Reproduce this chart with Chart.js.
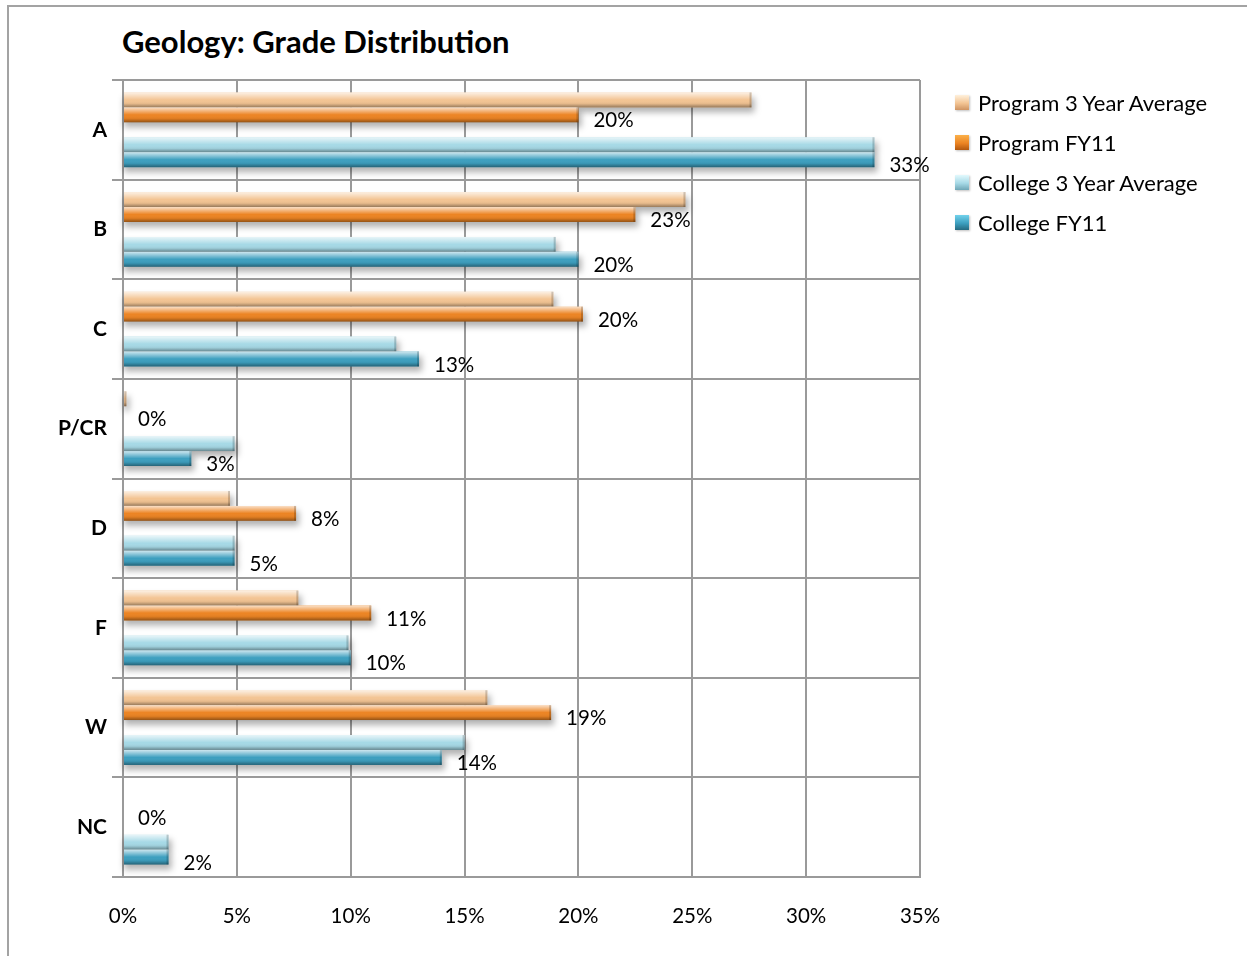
<!DOCTYPE html>
<html>
<head>
<meta charset="utf-8">
<title>Geology: Grade Distribution</title>
<script src="https://cdn.jsdelivr.net/npm/chart.js@4.4.1/dist/chart.umd.min.js"></script>
<style>
    html, body { margin: 0; padding: 0; background: #fff; overflow: hidden; }
    body { width: 1247px; height: 956px; position: relative; font-family: Lato, "Open Sans", sans-serif; }
    .frame {
        position: absolute; left: 7px; top: 5px; width: 1400px; height: 1100px;
        border-left: 2px solid #a3a3a3; border-top: 2px solid #a3a3a3;
    }
    .chart-box { position: absolute; left: 0; top: 0; width: 1247px; height: 956px; }
    .chart-title {
        position: absolute; left: 122px; top: 22px; line-height: 38px;
        font-weight: bold; font-size: 31px; color: #000; white-space: nowrap;
    }
    .legend { position: absolute; left: 955px; top: 82px; margin: 0; padding: 0; list-style: none; }
    .legend li { display: flex; align-items: center; height: 40px; font-size: 22px; color: #000; white-space: nowrap; }
    .legend .swatch { width: 14px; height: 15px; margin-right: 9px; box-shadow: 1px 1px 2px rgba(0,0,0,0.25); }
</style>
</head>
<body>
<div class="frame"></div>
<div class="chart-title">Geology: Grade Distribution</div>
<div class="chart-box"><canvas id="gradeChart"></canvas></div>
<ul class="legend" id="legend-id"></ul>

<script>
// Grade categories, top to bottom
const categories = ['A', 'B', 'C', 'P/CR', 'D', 'F', 'W', 'NC'];

// Percent of grades per series
const program3YearAvg = [27.6, 24.7, 18.9, 0.15, 4.7, 7.7, 16.0, 0];
const programFY11     = [20.0, 22.5, 20.2, 0, 7.6, 10.9, 18.8, 0];
const college3YearAvg = [33.0, 19.0, 12.0, 4.9, 4.9, 9.9, 15.0, 2.0];
const collegeFY11     = [33.0, 20.0, 13.0, 3.0, 4.9, 10.0, 14.0, 2.0];

// X axis tick values (percent)
const xTicks = [0, 5, 10, 15, 20, 25, 30, 35];

// Series colours: base fill + light/dark for legend swatches
const seriesColors = {
    prog3: { base: '#f3c493', light: '#fff1dc', dark: '#cf9462' },
    progFY: { base: '#ec8423', light: '#fbb14a', dark: '#b2580f' },
    coll3: { base: '#a6d9e6', light: '#e2f9fd', dark: '#6fa6b6' },
    collFY: { base: '#3d9fbf', light: '#72d2ec', dark: '#266a80' }
};

const gridColor = '#9a9a9a';
const fontFamily = 'Lato, "Open Sans", sans-serif';

// Soft drop shadow under every bar
const shadowPlugin = {
    id: 'barShadow',
    beforeDatasetsDraw(chart) {
        const ctx = chart.ctx;
        ctx.save();
        ctx.filter = 'blur(3px)';
        ctx.fillStyle = 'rgba(0, 0, 0, 0.3)';
        chart.data.datasets.forEach((ds, i) => {
            const meta = chart.getDatasetMeta(i);
            if (meta.hidden) return;
            meta.data.forEach(bar => {
                const p = bar.getProps(['x', 'y', 'base', 'height'], true);
                if (p.x - p.base < 1) return;
                ctx.fillRect(p.base, p.y - p.height / 2 + 5, p.x - p.base + 3, p.height);
            });
        });
        ctx.restore();
    }
};

// Glossy highlight on top of each bar
const glossPlugin = {
    id: 'barGloss',
    afterDatasetsDraw(chart) {
        const ctx = chart.ctx;
        ctx.save();
        chart.data.datasets.forEach((ds, i) => {
            const meta = chart.getDatasetMeta(i);
            if (meta.hidden) return;
            meta.data.forEach(bar => {
                const p = bar.getProps(['x', 'y', 'base', 'height'], true);
                const w = p.x - p.base;
                if (w < 0.5) return;
                const top = p.y - p.height / 2;
                const bottom = p.y + p.height / 2;
                const g = ctx.createLinearGradient(0, top, 0, bottom);
                g.addColorStop(0, 'rgba(255,255,255,0.75)');
                g.addColorStop(0.3, 'rgba(255,255,255,0.3)');
                g.addColorStop(0.5, 'rgba(255,255,255,0)');
                g.addColorStop(0.75, 'rgba(0,0,0,0.06)');
                g.addColorStop(1, 'rgba(0,0,0,0.38)');
                ctx.fillStyle = g;
                ctx.fillRect(p.base, top, w, p.height);
                // darker right end cap
                ctx.fillStyle = 'rgba(0,0,0,0.18)';
                ctx.fillRect(p.x - Math.min(2, w), top, Math.min(2, w), p.height);
            });
        });
        ctx.restore();
    }
};

// Rounded percent labels for the FY11 series
const valueLabelPlugin = {
    id: 'valueLabels',
    afterDatasetsDraw(chart) {
        const ctx = chart.ctx;
        ctx.save();
        ctx.font = `20.5px ${fontFamily}`;
        ctx.fillStyle = '#000';
        ctx.textAlign = 'left';
        ctx.textBaseline = 'middle';
        chart.data.datasets.forEach((ds, i) => {
            if (!ds.showValues) return;
            const meta = chart.getDatasetMeta(i);
            meta.data.forEach((bar, j) => {
                const v = ds.data[j];
                if (v == null) return;
                ctx.fillText(`${Math.round(v)}%`, bar.x + 15, bar.y + 6);
            });
        });
        ctx.restore();
    }
};

const datasets = [
    { label: 'Program 3 Year Average', data: program3YearAvg, backgroundColor: seriesColors.prog3.base, key: 'prog3' },
    { label: 'Program FY11', data: programFY11, backgroundColor: seriesColors.progFY.base, key: 'progFY', showValues: true },
    // empty slot that separates the program pair from the college pair
    { label: '', data: categories.map(() => null), backgroundColor: 'rgba(0,0,0,0)', spacer: true },
    { label: 'College 3 Year Average', data: college3YearAvg, backgroundColor: seriesColors.coll3.base, key: 'coll3' },
    { label: 'College FY11', data: collegeFY11, backgroundColor: seriesColors.collFY.base, key: 'collFY', showValues: true }
];

const chart = new Chart(document.getElementById('gradeChart'), {
    type: 'bar',
    data: {
        labels: categories,
        datasets: datasets.map(ds => Object.assign({ barPercentage: 1, categoryPercentage: 0.75, borderWidth: 0 }, ds))
    },
    options: {
        indexAxis: 'y',
        responsive: true,
        maintainAspectRatio: false,
        animation: false,
        layout: { padding: { top: 80, right: 327, bottom: 0, left: 0 } },
        plugins: {
            legend: { display: false },
            title: { display: false },
            tooltip: { enabled: false }
        },
        scales: {
            x: {
                min: 0,
                max: 35,
                afterBuildTicks: scale => { scale.ticks = xTicks.map(v => ({ value: v })); },
                afterFit: scale => { scale.height = 79; },
                ticks: {
                    callback: v => `${v}%`,
                    color: '#000',
                    padding: 27,
                    maxRotation: 0,
                    font: { family: fontFamily, size: 20.5 }
                },
                grid: { color: gridColor, lineWidth: 2, drawTicks: false },
                border: { color: gridColor, width: 2 }
            },
            y: {
                afterFit: scale => { scale.width = 123; },
                ticks: {
                    color: '#000',
                    padding: 5,
                    font: { family: fontFamily, size: 21, weight: 'bold' }
                },
                grid: { color: gridColor, lineWidth: 2, offset: true, tickLength: 11 },
                border: { color: gridColor, width: 2 }
            }
        }
    },
    plugins: [shadowPlugin, glossPlugin, valueLabelPlugin]
});

// Build legend from the chart's datasets
const legendEl = document.getElementById('legend-id');
let legendHtml = '';
chart.data.datasets.forEach(ds => {
    if (ds.spacer) return;
    const c = seriesColors[ds.key];
    legendHtml += `
        <li>
            <span class="swatch" style="background: linear-gradient(to bottom, ${c.light}, ${c.base} 55%, ${c.dark});"></span>
            ${ds.label}
        </li>`;
});
legendEl.innerHTML = legendHtml;
</script>
</body>
</html>
